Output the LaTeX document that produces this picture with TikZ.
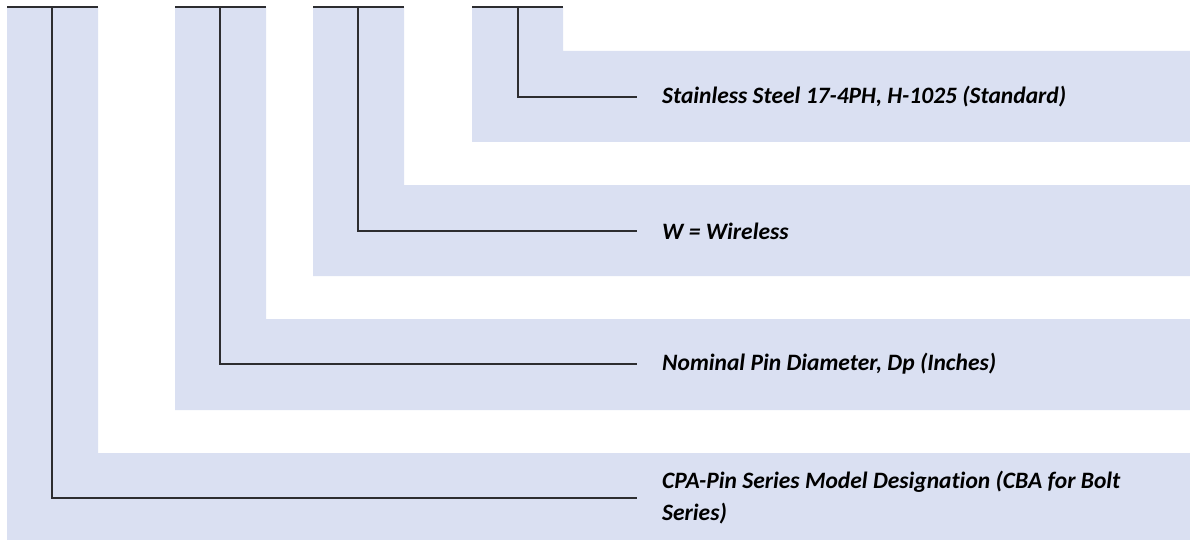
\documentclass[tikz,border=0pt]{standalone}
\usepackage{fontspec}
\setmainfont{Carlito}[Ligatures=NoCommon]
\usepackage{tikz}
\definecolor{bandblue}{RGB}{218,224,242}
\definecolor{leadgray}{RGB}{45,45,48}
\newcommand{\leadwidth}{1.6pt}
\newcommand{\labelx}{637}
\tikzset{
  band/.style={fill=bandblue},
  lead/.style={draw=leadgray, line width=\leadwidth},
  tab/.style={draw=leadgray, line width=\leadwidth},
  code/.style={anchor=west, inner xsep=25pt, inner ysep=0pt, align=left,
    font=\fontsize{23.5}{32}\selectfont\bfseries\itshape}
}

\begin{document}
\begin{tikzpicture}[x=1pt, y=-1pt]
        \useasboundingbox (0,0) rectangle (1190,540);

        %bands
        \fill[band] (7,7)   -- (98,7)  -- (98,453)  -- (1190,453) -- (1190,540) -- (7,540)   -- cycle;
        \fill[band] (175,7) -- (266,7) -- (266,319) -- (1190,319) -- (1190,410) -- (175,410) -- cycle;
        \fill[band] (313,7) -- (404,7) -- (404,185) -- (1190,185) -- (1190,276) -- (313,276) -- cycle;
        \fill[band] (472,7) -- (563,7) -- (563,51)  -- (1190,51)  -- (1190,142) -- (472,142) -- cycle;

        %tabs
        \draw[tab] (7,7)   -- (98,7);
        \draw[tab] (175,7) -- (266,7);
        \draw[tab] (313,7) -- (404,7);
        \draw[tab] (472,7) -- (563,7);

        %tops
        \coordinate (series)   at (52,7);
        \coordinate (diameter) at (220,7);
        \coordinate (wireless) at (358,7);
        \coordinate (material) at (518,7);

        %labels
        \node[code, name=seriesL  ] at (\labelx,498) {CPA-Pin Series Model Designation (CBA for Bolt\\Series)};
        \node[code, name=diameterL] at (\labelx,364) {Nominal Pin Diameter, Dp (Inches)};
        \node[code, name=wirelessL] at (\labelx,231) {W = Wireless};
        \node[code, name=materialL] at (\labelx,97)  {Stainless Steel 17-4PH, H-1025 (Standard)};

        %leads
        \draw[lead] (series)   |- (seriesL.west);
        \draw[lead] (diameter) |- (diameterL.west);
        \draw[lead] (wireless) |- (wirelessL.west);
        \draw[lead] (material) |- (materialL.west);
    \end{tikzpicture}
\end{document}
